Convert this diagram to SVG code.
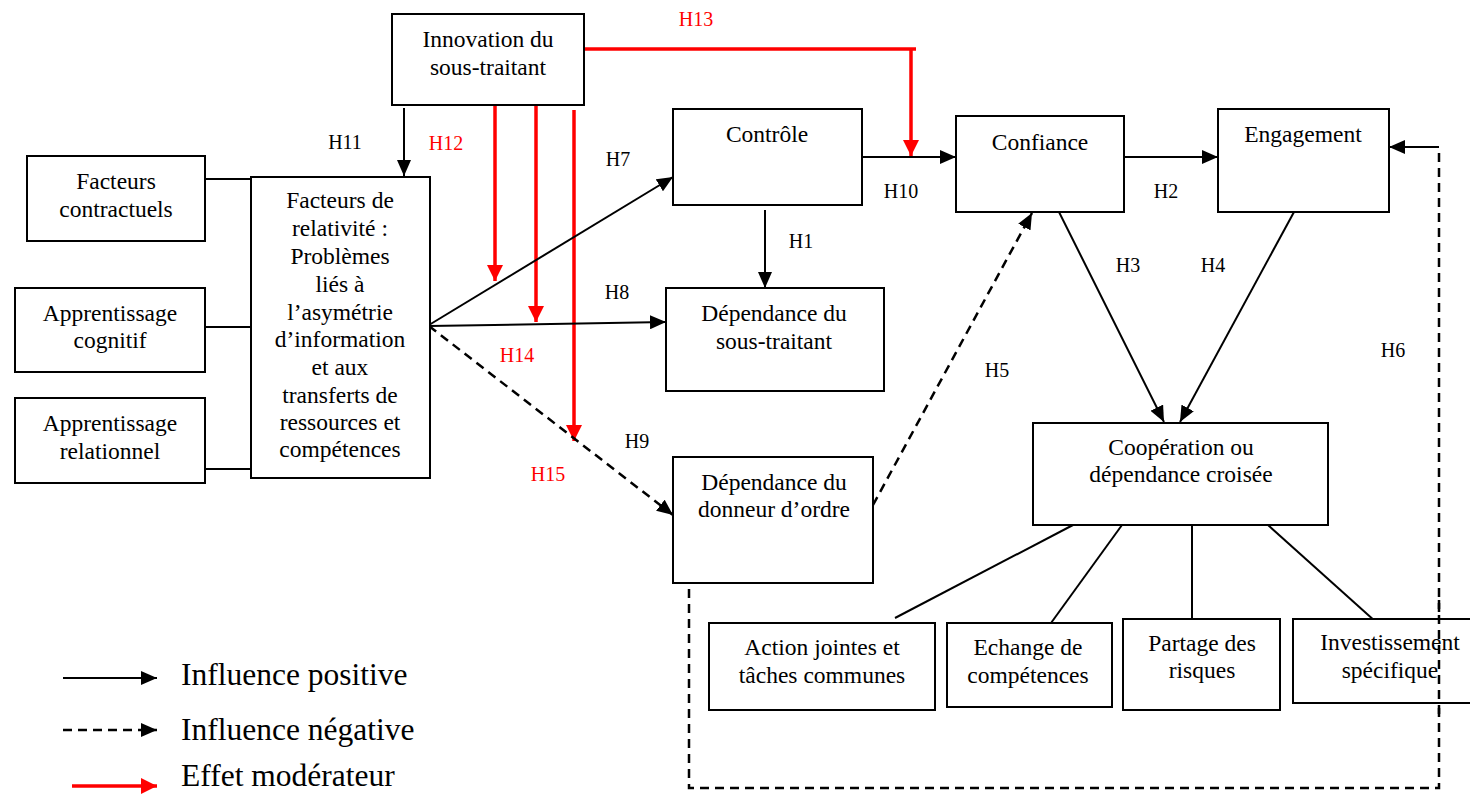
<svg xmlns="http://www.w3.org/2000/svg" width="1470" height="794" viewBox="0 0 1470 794">
  <defs>
    <style>
      .box { fill: #ffffff; stroke: #000000; stroke-width: 2; }
      .txt { font-family: "Liberation Serif", "Times New Roman", serif; font-size: 23.5px; fill: #000000; text-anchor: middle; }
      .lbl { font-family: "Liberation Serif", "Times New Roman", serif; font-size: 20px; fill: #000000; text-anchor: middle; }
      .lbl.red { fill: #ff0000; }
      .leg { font-family: "Liberation Serif", "Times New Roman", serif; font-size: 31.5px; fill: #000000; }
      .pos { fill: none; stroke: #000000; stroke-width: 2; }
      .neg { fill: none; stroke: #000000; stroke-width: 2.5; stroke-dasharray: 9 6; }
      .mod { fill: none; stroke: #ff0000; stroke-width: 3.5; }
      .plain { fill: none; stroke: #000000; stroke-width: 2; }
    </style>
    <marker id="ahBlack" markerUnits="userSpaceOnUse" markerWidth="16" markerHeight="14" refX="16" refY="7" orient="auto">
      <path d="M0,0 L16,7 L0,14 z" fill="#000000"/>
    </marker>
    <marker id="ahRed" markerUnits="userSpaceOnUse" markerWidth="16" markerHeight="16" refX="16" refY="8" orient="auto">
      <path d="M0,0 L16,8 L0,16 z" fill="#ff0000"/>
    </marker>
  </defs>

  <rect width="1470" height="794" fill="#ffffff"/>

  <!-- connectors -->
  <g id="connectors">
    <!-- side factors to the central box -->
    <line class="plain" x1="205" y1="179" x2="251" y2="179"/>
    <line class="plain" x1="205" y1="327" x2="251" y2="327"/>
    <line class="plain" x1="205" y1="469" x2="251" y2="469"/>

    <!-- H11 -->
    <line class="pos" x1="404" y1="108" x2="404" y2="176" marker-end="url(#ahBlack)"/>

    <!-- moderating effects (red) -->
    <polyline class="mod" points="584,49 916,49"/>
    <line class="mod" x1="911" y1="49" x2="911" y2="156" marker-end="url(#ahRed)"/>
    <line class="mod" x1="495" y1="105" x2="495" y2="281" marker-end="url(#ahRed)"/>
    <line class="mod" x1="536" y1="105" x2="536" y2="322" marker-end="url(#ahRed)"/>
    <line class="mod" x1="574" y1="110" x2="574" y2="441" marker-end="url(#ahRed)"/>

    <!-- H7, H8, H9 -->
    <line class="pos" x1="429" y1="325" x2="673" y2="177" marker-end="url(#ahBlack)"/>
    <line class="pos" x1="429" y1="326" x2="666" y2="322" marker-end="url(#ahBlack)"/>
    <line class="neg" x1="429" y1="326" x2="673" y2="515" marker-end="url(#ahBlack)"/>

    <!-- H1 -->
    <line class="pos" x1="765" y1="210" x2="765" y2="288" marker-end="url(#ahBlack)"/>

    <!-- H10, H2 -->
    <line class="pos" x1="862" y1="157" x2="956" y2="157" marker-end="url(#ahBlack)"/>
    <line class="pos" x1="1124" y1="157" x2="1218" y2="157" marker-end="url(#ahBlack)"/>

    <!-- H3, H4 -->
    <line class="pos" x1="1059" y1="212" x2="1164" y2="422" marker-end="url(#ahBlack)"/>
    <line class="pos" x1="1294" y1="212" x2="1180" y2="422" marker-end="url(#ahBlack)"/>

    <!-- H5 -->
    <line class="neg" x1="873" y1="505" x2="1032" y2="213" marker-end="url(#ahBlack)"/>

    <!-- H6 feedback loop -->
    <polyline class="neg" points="689,589 689,788 1439,788 1439,147"/>
    <line class="pos" x1="1439" y1="147" x2="1389" y2="147" marker-end="url(#ahBlack)"/>

    <!-- dimensions of cooperation -->
    <line class="plain" x1="1073" y1="525" x2="895" y2="618"/>
    <line class="plain" x1="1122" y1="525" x2="1051" y2="623"/>
    <line class="plain" x1="1192" y1="525" x2="1192" y2="619"/>
    <line class="plain" x1="1268" y1="525" x2="1376" y2="622"/>
  </g>

  <!-- hypothesis labels -->
  <g id="labels">
    <text class="lbl red" x="696" y="26">H13</text>
    <text class="lbl" x="345" y="149">H11</text>
    <text class="lbl red" x="446" y="150">H12</text>
    <text class="lbl" x="618" y="166">H7</text>
    <text class="lbl" x="901" y="198">H10</text>
    <text class="lbl" x="801" y="248">H1</text>
    <text class="lbl" x="617" y="299">H8</text>
    <text class="lbl red" x="517" y="362">H14</text>
    <text class="lbl" x="637" y="448">H9</text>
    <text class="lbl red" x="548" y="481">H15</text>
    <text class="lbl" x="1166" y="198">H2</text>
    <text class="lbl" x="1128" y="272">H3</text>
    <text class="lbl" x="1213" y="272">H4</text>
    <text class="lbl" x="997" y="377">H5</text>
    <text class="lbl" x="1393" y="357">H6</text>
  </g>

  <!-- nodes -->
  <g id="innovation">
    <rect class="box" x="392" y="14" width="192" height="91"/>
    <text class="txt" x="488" y="47">Innovation du</text>
    <text class="txt" x="488" y="75">sous-traitant</text>
  </g>

  <g id="facteurs-contractuels">
    <rect class="box" x="27" y="156" width="178" height="85"/>
    <text class="txt" x="116" y="189">Facteurs</text>
    <text class="txt" x="116" y="217">contractuels</text>
  </g>

  <g id="apprentissage-cognitif">
    <rect class="box" x="15" y="288" width="190" height="84"/>
    <text class="txt" x="110" y="321">Apprentissage</text>
    <text class="txt" x="110" y="348">cognitif</text>
  </g>

  <g id="apprentissage-relationnel">
    <rect class="box" x="15" y="398" width="190" height="85"/>
    <text class="txt" x="110" y="431">Apprentissage</text>
    <text class="txt" x="110" y="459">relationnel</text>
  </g>

  <g id="facteurs-relativite">
    <rect class="box" x="251" y="177" width="179" height="301"/>
    <text class="txt" x="340" y="208">Facteurs de</text>
    <text class="txt" x="340" y="236">relativité :</text>
    <text class="txt" x="340" y="264">Problèmes</text>
    <text class="txt" x="340" y="292">liés à</text>
    <text class="txt" x="340" y="320">l’asymétrie</text>
    <text class="txt" x="340" y="347">d’information</text>
    <text class="txt" x="340" y="375">et aux</text>
    <text class="txt" x="340" y="403">transferts de</text>
    <text class="txt" x="340" y="430">ressources et</text>
    <text class="txt" x="340" y="457">compétences</text>
  </g>

  <g id="controle">
    <rect class="box" x="673" y="109" width="189" height="96"/>
    <text class="txt" x="767" y="142">Contrôle</text>
  </g>

  <g id="confiance">
    <rect class="box" x="956" y="116" width="168" height="96"/>
    <text class="txt" x="1040" y="150">Confiance</text>
  </g>

  <g id="engagement">
    <rect class="box" x="1218" y="109" width="171" height="103"/>
    <text class="txt" x="1303" y="142">Engagement</text>
  </g>

  <g id="dependance-sous-traitant">
    <rect class="box" x="666" y="288" width="218" height="103"/>
    <text class="txt" x="774" y="321">Dépendance du</text>
    <text class="txt" x="774" y="349">sous-traitant</text>
  </g>

  <g id="dependance-donneur">
    <rect class="box" x="673" y="457" width="200" height="126"/>
    <text class="txt" x="774" y="490">Dépendance du</text>
    <text class="txt" x="774" y="517">donneur d’ordre</text>
  </g>

  <g id="cooperation">
    <rect class="box" x="1033" y="423" width="295" height="102"/>
    <text class="txt" x="1181" y="455">Coopération ou</text>
    <text class="txt" x="1181" y="482">dépendance croisée</text>
  </g>

  <g id="actions-jointes">
    <rect class="box" x="709" y="623" width="226" height="87"/>
    <text class="txt" x="822" y="655">Action jointes et</text>
    <text class="txt" x="822" y="683">tâches communes</text>
  </g>

  <g id="echange-competences">
    <rect class="box" x="947" y="623" width="165" height="84"/>
    <text class="txt" x="1028" y="655">Echange de</text>
    <text class="txt" x="1028" y="683">compétences</text>
  </g>

  <g id="partage-risques">
    <rect class="box" x="1123" y="619" width="157" height="91"/>
    <text class="txt" x="1202" y="651">Partage des</text>
    <text class="txt" x="1202" y="678">risques</text>
  </g>

  <g id="investissement">
    <rect class="box" x="1293" y="619" width="190" height="84"/>
    <text class="txt" x="1390" y="650">Investissement</text>
    <text class="txt" x="1390" y="678">spécifique</text>
  </g>

  <!-- loop segment passes over the last box -->
  <line class="neg" x1="1439" y1="600" x2="1439" y2="720"/>

  <!-- legend -->
  <g id="legend">
    <line class="pos" x1="63" y1="678" x2="157" y2="678" marker-end="url(#ahBlack)"/>
    <text class="leg" x="181" y="685">Influence positive</text>
    <line class="neg" x1="63" y1="730" x2="157" y2="730" marker-end="url(#ahBlack)"/>
    <text class="leg" x="181" y="740">Influence négative</text>
    <line class="mod" x1="72" y1="786" x2="157" y2="786" marker-end="url(#ahRed)"/>
    <text class="leg" x="181" y="786">Effet modérateur</text>
  </g>
</svg>
